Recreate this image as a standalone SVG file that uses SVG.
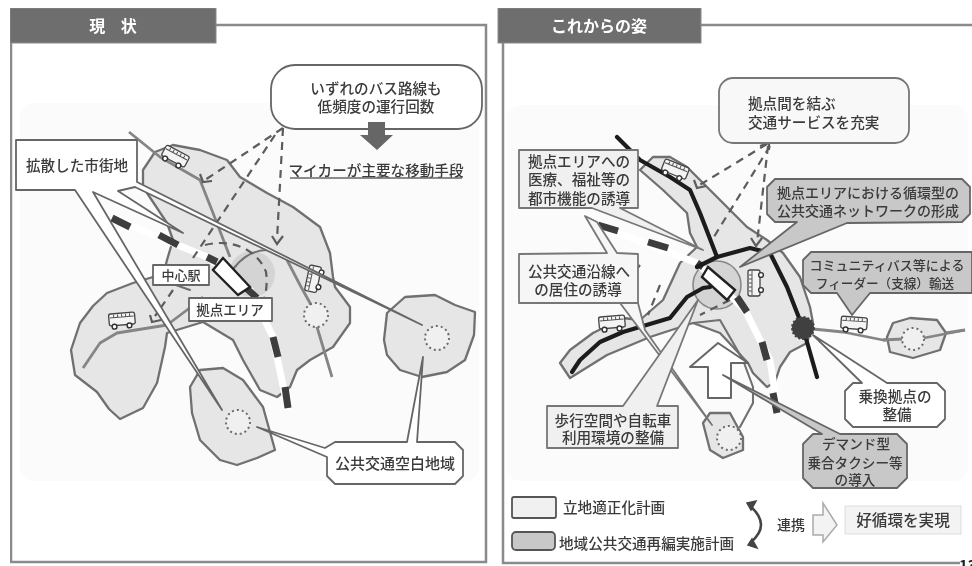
<svg xmlns="http://www.w3.org/2000/svg" xmlns:xlink="http://www.w3.org/1999/xlink" width="972" height="566" viewBox="0 0 972 566">
<style>
text{font-family:"Noto Sans CJK JP","Noto Sans",sans-serif;fill:#3a3a3a;font-size:14.6px;font-weight:500;text-anchor:middle}
.l{text-anchor:start}
.ttl{fill:#fff;font-size:16px;font-weight:700}
.frame{fill:none;stroke:#8a8a8a;stroke-width:2.5}
.hdr{fill:#6e6e6e;stroke:#8a8a8a}
.bg{fill:#fbfbfb}
.blob{fill:#e6e6e6;stroke:#707070;stroke-width:2.3;stroke-linejoin:round}
.edge{fill:none;stroke:#707070;stroke-width:2.1;stroke-linejoin:round;stroke-linecap:round}
.route{fill:none;stroke:#858585;stroke-width:2.8;stroke-linejoin:round}
.black{fill:none;stroke:#1c1c1c;stroke-width:4.2;stroke-linejoin:round;stroke-linecap:round}
.railw{fill:none;stroke:#fff;stroke-width:7;stroke-linejoin:round}
.raild{fill:none;stroke:#3c3c3c;stroke-width:7}
.dash{fill:none;stroke:#5c5c5c;stroke-width:2.2;stroke-dasharray:8 6}
.tip{fill:none;stroke:#5c5c5c;stroke-width:2.2}
.ring{fill:#f0f0f0;stroke:#6a6a6a;stroke-width:2;stroke-dasharray:2 3}
.stn{fill:#fff;stroke:#222;stroke-width:2.4}
.w{fill:#fff;stroke:#666;stroke-width:1.8;stroke-linejoin:round}
.lt{fill:#f0f0f0;stroke:#777;stroke-width:1.8;stroke-linejoin:round}
.dk{fill:#c8c8c8;stroke:#666;stroke-width:1.8;stroke-linejoin:round}
.busb{fill:#f4f4f4;stroke:#444;stroke-width:1.3}
.busw{fill:none;stroke:#555;stroke-width:1}
.whl{fill:#fff;stroke:#333;stroke-width:1.4}
</style>
<defs>
<filter id="soft" x="0" y="0" width="100%" height="100%"><feGaussianBlur stdDeviation="0.45"/></filter>
<g id="bus">
<rect class="busb" x="-13" y="-7" width="26" height="12" rx="2"/>
<path class="busw" d="M-12-3H12M-8-6V-3M-4-6V-3M0-6V-3M4-6V-3M8-6V-3"/>
<circle class="whl" cx="-8" cy="6" r="2.4"/><circle class="whl" cx="7" cy="6" r="2.4"/>
</g>
</defs>
<rect width="972" height="566" fill="#fff"/>
<g filter="url(#soft)">
<g id="panel-left">
<rect class="bg" x="20" y="103" width="459" height="378" rx="14"/>
<path class="frame" d="M11 43V562H486V25H216"/>
<rect class="hdr" x="10" y="8" width="206" height="35"/>
<text class="ttl" x="113" y="32" style="word-spacing:12px">現 状</text>
</g>
<g id="panel-right">
<rect class="bg" x="507" y="105" width="461" height="376" rx="14"/>
<path class="frame" d="M503 43V563H960M701 25H972"/>
<rect class="hdr" x="498" y="8" width="203" height="35"/>
<text class="ttl" x="599" y="32">これからの姿</text>
</g>
<g id="map-left">
<polygon class="blob" points="133,283 107,293 93,306 80,323 71,350 75,375 97,392 109,409 120,419 143,408 157,383 165,347 167,333 203,322 233,340 243,360 260,390 277,397 290,387 297,370 310,360 333,347 350,323 350,307 335,287 333,277 330,253 320,227 293,207 267,193 240,177 227,160 200,150 173,145 155,152 143,170 143,187 167,223 173,240 167,260 164,272 153,277"/>
<circle cx="252" cy="274" r="23" fill="#d4d4d4"/>
<polyline class="edge" points="153,277 190,290"/>
<path class="edge" d="M234 268Q248 250 268 250"/>
<polygon class="blob" points="190,387 200,370 223,368 243,380 263,407 275,450 257,458 237,465 220,460 200,440 192,413"/>
<polygon class="blob" points="387,313 405,297 435,295 455,305 475,312 474,335 465,360 447,372 422,377 400,370 387,355 384,340"/>
<polyline class="route" points="129,132 160,157 200,180 213,213 230,257"/>
<polyline class="route" points="287,260 300,285 310,303 317,327 332,377"/>
<polyline class="route" points="83,368 100,343 117,333 167,325 187,310 203,297"/>
<polyline class="railw" points="112,218 207,257 250,290 273,337 288,410"/>
<path class="raild" d="M112 218L130 227M159 235L178 245M207 257L217 262M245 287L257 298M273 337L278 357M285 387L288 408"/>
<path class="dash" d="M283 128L205 180M275 135L193 258M173 290L155 316M283 128L277 240M205 245C232 238 258 250 266 272Q268 285 264 300"/>
<path class="tip" d="M200 174L203 182L212 181M272 236L277 244L283 236M150 315L152 322L161 320"/>
<circle class="ring" cx="316" cy="315" r="12"/><circle class="ring" cx="437" cy="338" r="12"/><circle class="ring" cx="238" cy="422" r="12"/>
<use xlink:href="#bus" href="#bus" transform="translate(175,157) rotate(28)"/>
<use xlink:href="#bus" href="#bus" transform="translate(122,320) rotate(-5)"/>
<use xlink:href="#bus" href="#bus" transform="translate(314,279) rotate(-78) scale(-1,1)"/>
<polygon class="stn" points="223,258 250,287 238,295 213,270"/>
</g>
<g id="callout-kakusan">
<polygon class="w" points="16,140 137,140 137,182 422,325 137,188 135,187 118,191 183,233 93,192 222,410 75,190 16,190"/>
<text x="77" y="171">拡散した市街地</text>
</g>
<g id="label-chushin"><rect class="w" x="153" y="265" width="56" height="20"/><text x="181" y="280" style="font-size:13px">中心駅</text></g>
<g id="label-kyoten"><rect class="w" x="189" y="298" width="83" height="23"/><text x="230" y="315" style="font-size:13.5px">拠点エリア</text></g>
<g id="callout-bus">
<rect class="w" x="271" y="65" width="211" height="64" rx="24"/>
<text x="376" y="94">いずれのバス路線も</text>
<text x="376" y="112">低頻度の運行回数</text>
<polygon points="368,122 385,122 385,135 393,135 377,150 360,135 368,135" fill="#666"/>
</g>
<g id="label-mycar">
<text x="376" y="176">マイカーが主要な移動手段</text>
<line x1="290" y1="178" x2="462" y2="178" stroke="#666" stroke-width="1.4"/>
</g>
<g id="callout-kuhaku">
<polygon class="w" points="335,442 407,442 423,357 417,442 455,442 463,450 463,476 455,484 335,484 327,476 327,457 257,427 325,448"/>
<text x="395" y="469" style="font-size:15px">公共交通空白地域</text>
</g>
<g id="map-right">
<polygon class="blob" points="640,170 653,157 670,157 687,167 707,187 727,207 747,227 767,240 783,253 800,277 810,307 813,323 807,343 790,352 780,367 775,382 767,387 753,373 748,363 720,333 693,323 650,337 607,355 570,378 560,363 570,350 593,333 623,318 640,320 663,300 680,263 697,247 690,233 687,213 663,190"/>
<polyline class="edge" points="693,323 720,320 743,360 753,387 753,403 740,427"/>
<circle cx="717" cy="285" r="24" fill="#d4d4d4" stroke="#888" stroke-width="1.6"/>
<polygon class="blob" points="703,423 710,413 730,413 743,437 743,450 723,458 710,450"/>
<polyline class="route" points="803,328 843,332 883,340 913,338 965,330"/>
<polygon class="blob" points="887,337 893,323 910,318 937,320 946,333 940,350 913,358 890,352"/>
<polyline class="route" points="883,340 903,339"/><polyline class="route" points="924,338 965,330"/>
<polyline class="railw" points="598,225 697,263 745,310 770,360 778,413"/>
<path class="raild" d="M598 225L618 231M648 242L668 248M697 263L703 267M737 297L747 312M762 342L767 360M773 393L777 413"/>
<polyline class="black" points="617,137 640,160 670,177 690,190 700,213 717,257"/>
<polyline class="black" points="697,267 717,257 750,248 770,253 787,287 803,328 817,377"/>
<polyline class="black" points="572,372 580,360 600,342 623,332 670,318 687,297 703,288 710,287"/>
<path class="dash" d="M767 144L698 186M770 146L712 240M768 146L757 243M640 265L625 285M660 285L648 315M730 300L700 315"/>
<path class="tip" d="M694 180L697 188L706 186M760 146L769 143L769 150M751 238L756 246L762 238"/>
<circle cx="803" cy="328" r="11" fill="#404040" stroke="#404040" stroke-width="2" stroke-dasharray="2 2"/>
<circle class="ring" cx="913" cy="339" r="11"/><circle class="ring" cx="729" cy="438" r="12"/>
<use xlink:href="#bus" href="#bus" transform="translate(675,170) rotate(22)"/>
<use xlink:href="#bus" href="#bus" transform="translate(612,323) rotate(-5)"/>
<use xlink:href="#bus" href="#bus" transform="translate(755,283) rotate(-90) scale(-1,1)"/>
<use xlink:href="#bus" href="#bus" transform="translate(854,324) rotate(4)"/>
<polygon class="stn" points="708,267 735,290 727,300 702,277"/>
<polygon points="690,367 718,343 748,363 731,363 731,398 708,398 708,367" fill="#fff" stroke="#666" stroke-width="2" stroke-linejoin="round"/>
</g>
<g id="callout-service">
<rect class="lt" x="719" y="78" width="190" height="65" rx="14" style="fill:#f8f8f8"/>
<text class="l" x="748" y="109">拠点間を結ぶ</text>
<text class="l" x="748" y="128">交通サービスを充実</text>
</g>
<g id="callout-enkan">
<polygon class="lt" points="607,253 585,216 597,222 617,253 638,254 638,303 620,303 712,425 645,330 638,303 519,303 519,254" style="fill:#f6f6f6"/>
<text x="579" y="277">公共交通沿線へ</text>
<text x="578" y="295">の居住の誘導</text>
</g>
<g id="callout-iryo">
<polygon class="lt" points="519,150 638,150 638,208 620,208 703,250 592,208 519,208"/>
<text x="579" y="167">拠点エリアへの</text>
<text x="579" y="185">医療、福祉等の</text>
<text x="579" y="204">都市機能の誘導</text>
</g>
<g id="callout-junkan">
<polygon class="dk" points="775,179 962,179 970,187 970,214 962,222 847,223 740,267 797,222 775,222 767,214 767,187"/>
<text x="868" y="198" style="font-size:14px">拠点エリアにおける循環型の</text>
<text x="868" y="216" style="font-size:14px">公共交通ネットワークの形成</text>
</g>
<g id="callout-feeder">
<polygon class="dk" points="811,252 972,252 972,293 870,293 852,315 837,293 811,293 803,285 803,260"/>
<text x="887" y="270" style="font-size:13px">コミュニティバス等による</text>
<text x="885" y="288" style="font-size:12.6px">フィーダー（支線）輸送</text>
</g>
<g id="callout-norikae">
<polygon class="w" points="853,383 862,383 813,335 887,383 937,383 945,391 945,419 937,427 853,427 845,419 845,391"/>
<text x="895" y="402">乗換拠点の</text>
<text x="897" y="420">整備</text>
</g>
<g id="callout-demand">
<polygon class="dk" points="813,434 822,434 723,375 840,434 897,434 907,444 907,478 897,488 813,488 803,478 803,444"/>
<text x="856" y="449" style="font-size:13.6px">デマンド型</text>
<text x="855" y="468" style="font-size:13.6px">乗合タクシー等</text>
<text x="855" y="485" style="font-size:13.6px">の導入</text>
</g>
<g id="callout-hoko">
<polygon class="lt" points="547,406 623,406 698,300 657,406 678,406 678,448 547,448"/>
<text x="613" y="426">歩行空間や自転車</text>
<text x="613" y="443">利用環境の整備</text>
</g>
<g id="legend">
<rect class="lt" x="512" y="497" width="44" height="21" rx="2" style="stroke:#555"/>
<text class="l" x="563" y="513">立地適正化計画</text>
<rect class="dk" x="512" y="532" width="43" height="18" rx="4" style="stroke:#555"/>
<text class="l" x="559" y="549">地域公共交通再編実施計画</text>
</g>
<g id="link">
<path d="M750 506Q772 525 750 543" fill="none" stroke="#444" stroke-width="2.6"/>
<path d="M747 503L756 501L751 510ZM748 545L757 548L752 539Z" fill="#444" stroke="#444" stroke-width="1.5"/>
<text x="791" y="530" style="font-size:14px">連携</text>
<polygon points="813,515 823,515 823,503 837,525 823,542 823,535 813,535" fill="#f3f3f3" stroke="#aaa" stroke-width="1.5"/>
</g>
<g id="result">
<rect x="845" y="506" width="116" height="28" fill="#f3f3f3" stroke="#ddd"/>
<text x="903" y="526" style="font-size:15.6px">好循環を実現</text>
</g>
<text x="959" y="571" class="l" style="font-size:15px;font-weight:700;fill:#222">13</text>
</g>
</svg>
